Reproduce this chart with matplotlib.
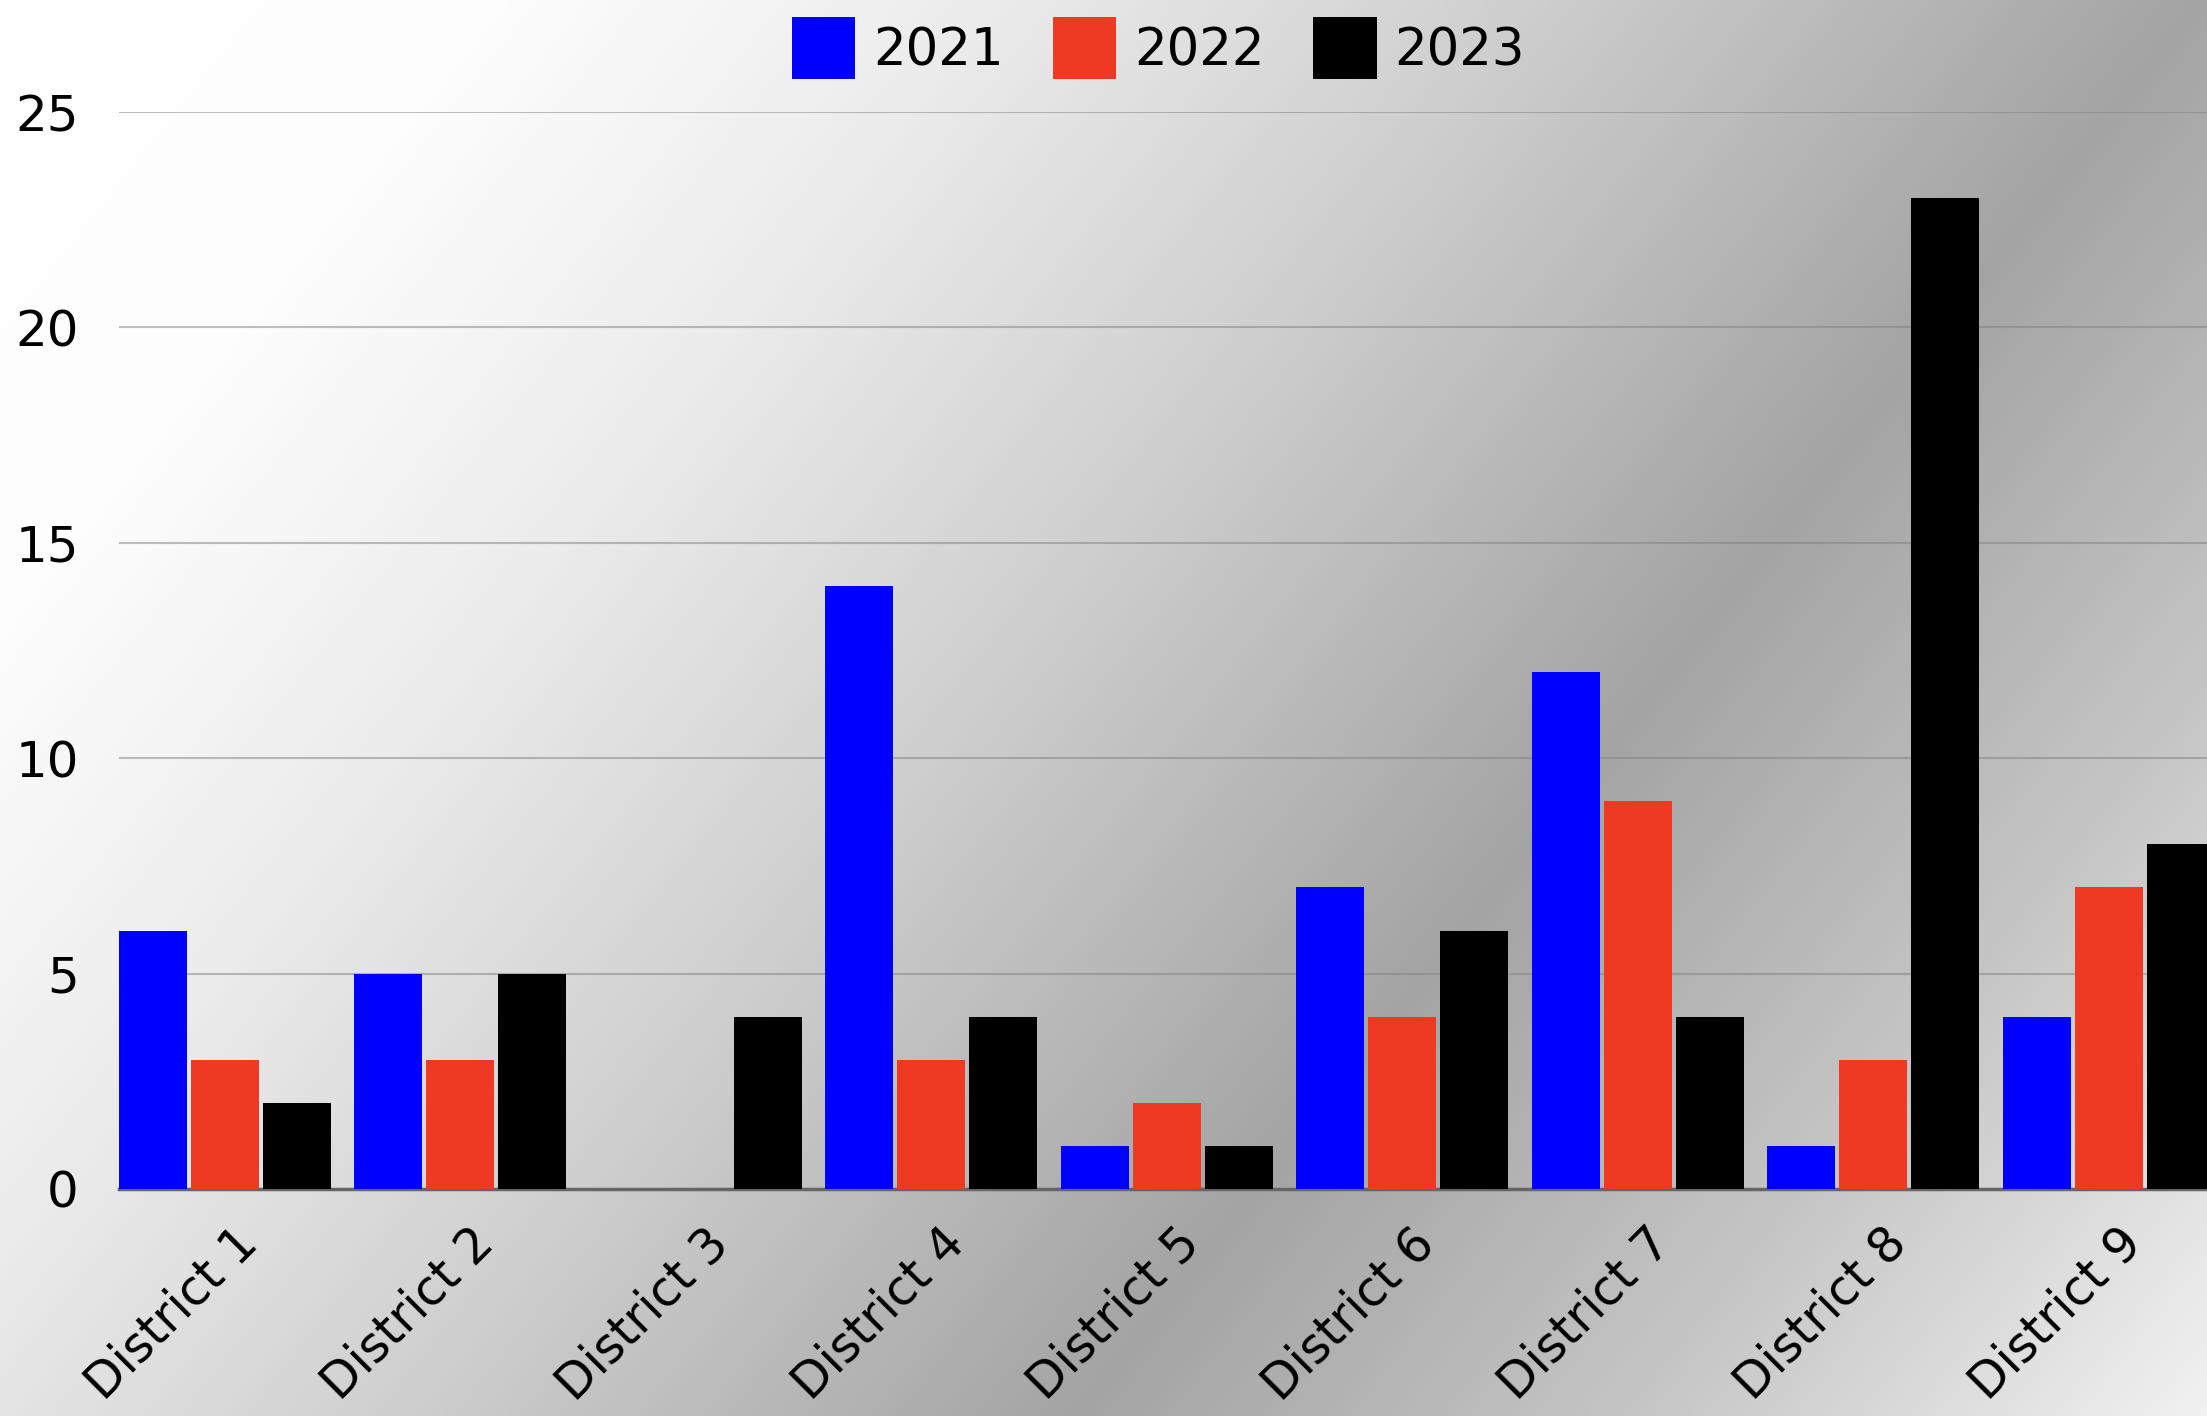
import numpy as np
import matplotlib.pyplot as plt
import matplotlib.transforms as mtransforms
from matplotlib.colors import LinearSegmentedColormap

# ---------------- DATA ----------------
districts = ["District 1", "District 2", "District 3", "District 4", "District 5",
             "District 6", "District 7", "District 8", "District 9"]
years = ["2021", "2022", "2023"]
vals_2021 = [6, 5, 0, 14, 1, 7, 12, 1, 4]
vals_2022 = [3, 3, 0, 3, 2, 4, 9, 3, 7]
vals_2023 = [2, 5, 4, 4, 1, 6, 4, 23, 8]
y_ticks = [0, 5, 10, 15, 20, 25]

colors = ["#0000ff", "#ee3a23", "#000000"]

W, H = 2207, 1416
plt.rcParams["font.family"] = ["DejaVu Sans"]

fig = plt.figure(figsize=(W / 100, H / 100), dpi=100)

# ---------------- BACKGROUND GRADIENT ----------------
bg = fig.add_axes([0, 0, 1, 1], zorder=0)
bg.axis("off")
yy, xx = np.mgrid[0:H:4, 0:W:4]
d = np.array([0.78, 0.62])
t = (xx * d[0] + yy * d[1]) / (W * d[0] + H * d[1])
cmap = LinearSegmentedColormap.from_list(
    "bg", [(0.0, "#ffffff"), (0.15, "#fdfdfd"), (0.30, "#ebebeb"),
           (0.45, "#d0d0d0"), (0.66, "#a4a4a4"), (0.82, "#c4c4c4"),
           (1.0, "#f2f2f2")])
bg.imshow(t, cmap=cmap, vmin=0, vmax=1, aspect="auto",
          extent=[0, 1, 0, 1], origin="upper", interpolation="bilinear")
bg.set_xlim(0, 1)
bg.set_ylim(0, 1)

# ---------------- BARS ----------------
left = 119 / W
bottom = 1 - 1189 / H
top = 1 - 112 / H
ax = fig.add_axes([left, bottom, 1 - left, top - bottom], zorder=1)
ax.patch.set_alpha(0)

x = np.arange(len(districts))
step = 0.3057
width = 0.2887
series = [vals_2021, vals_2022, vals_2023]
for k, (vals, yr, c) in enumerate(zip(series, years, colors)):
    ax.bar(x + (k - 1) * step, vals, width=width, color=c, label=yr, zorder=3)

ax.set_xlim(-0.45, -0.45 + (W - 119) / 235.5)
ax.set_ylim(0, 25)
ax.set_yticks(y_ticks)
ax.set_yticklabels([str(v) for v in y_ticks], fontsize=36)
ax.yaxis.grid(True, color="#808080", alpha=0.5, linewidth=1.5)
ax.set_axisbelow(True)
ax.tick_params(axis="y", length=0, pad=29)

ax.set_xticks(x)
ax.set_xticklabels(districts, fontsize=35, rotation=45, ha="right",
                   va="center", rotation_mode="anchor")
ax.tick_params(axis="x", length=0, pad=0)
offset = mtransforms.ScaledTranslation(0.25, -0.47, fig.dpi_scale_trans)
for lab in ax.get_xticklabels():
    lab.set_transform(lab.get_transform() + offset)

for side in ["top", "right", "left"]:
    ax.spines[side].set_visible(False)
ax.spines["bottom"].set_color("#666666")
ax.spines["bottom"].set_linewidth(2.5)
ax.spines["bottom"].set_zorder(2)

fig.legend(loc="center", bbox_to_anchor=(0.525, 0.966), ncol=3, frameon=False,
           fontsize=37, handlelength=1.23, handleheight=1.5,
           handletextpad=0.35, columnspacing=0.95)

fig.savefig("out.png", dpi=100)
